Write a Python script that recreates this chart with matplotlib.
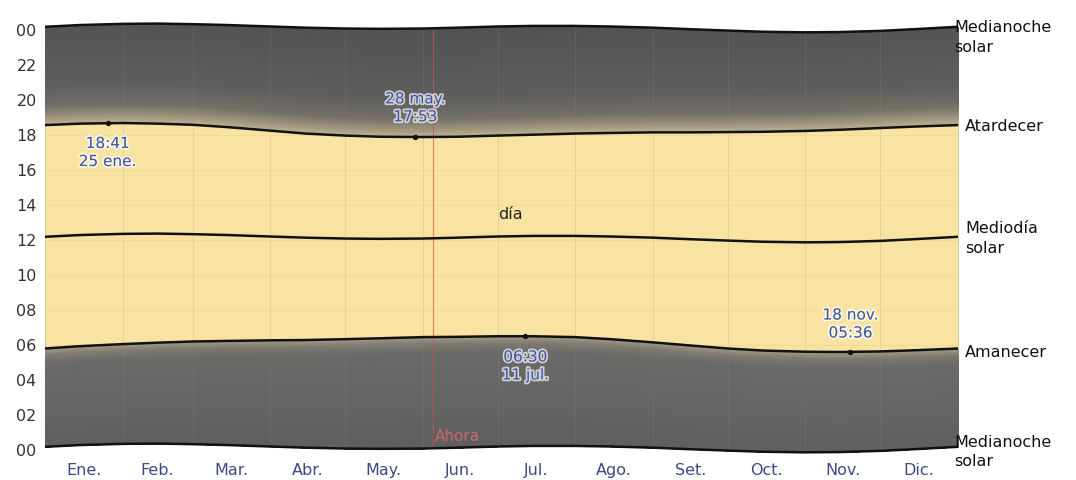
import numpy as np
import matplotlib
matplotlib.use("Agg")
import matplotlib.pyplot as plt
import matplotlib.patheffects as pe

# ---- data (day of year, hours) ----
days = [0, 14, 31, 45, 59, 73, 90, 104, 120, 134, 151, 165, 181, 195, 212, 226, 243, 257, 273, 287, 304, 318, 334, 348, 365]
sunrise_hm = ["05:48", "05:56", "06:03", "06:08", "06:12", "06:14", "06:16", "06:17", "06:20", "06:23",
              "06:27", "06:28", "06:30", "06:30", "06:27", "06:20", "06:09", "05:59", "05:48", "05:41",
              "05:37", "05:36", "05:38", "05:42", "05:48"]
sunset_hm = ["18:34", "18:39", "18:41", "18:39", "18:35", "18:27", "18:15", "18:05", "17:58", "17:54",
             "17:53", "17:54", "17:58", "18:01", "18:05", "18:07", "18:09", "18:09", "18:10", "18:11",
             "18:14", "18:18", "18:24", "18:29", "18:34"]
noon_hm = ["12:11", "12:17", "12:21", "12:22", "12:20", "12:17", "12:12", "12:08", "12:05", "12:04",
           "12:05", "12:08", "12:12", "12:14", "12:14", "12:12", "12:08", "12:03", "11:58", "11:54",
           "11:52", "11:53", "11:57", "12:03", "12:11"]

month_labels = ["Ene.", "Feb.", "Mar.", "Abr.", "May.", "Jun.", "Jul.", "Ago.", "Set.", "Oct.", "Nov.", "Dic."]
month_starts = [0, 31, 59, 90, 120, 151, 181, 212, 243, 273, 304, 334, 365]
hour_ticks = [0, 2, 4, 6, 8, 10, 12, 14, 16, 18, 20, 22, 24]
hour_labels = ["00", "02", "04", "06", "08", "10", "12", "14", "16", "18", "20", "22", "00"]

extreme_days = [25, 148, 192, 322]
extreme_hm = ["18:41", "17:53", "06:30", "05:36"]
extreme_text = ["18:41\n25 ene.", "28 may.\n17:53", "06:30\n11 jul.", "18 nov.\n05:36"]
extreme_text_hour = [17.0, 19.55, 4.8, 7.2]

now_day = 155
right_labels = ["Medianoche\nsolar", "Atardecer", "Mediodía\nsolar", "Amanecer", "Medianoche\nsolar"]


def hm(s):
    h, m = s.split(":")
    return int(h) + int(m) / 60.0


x = np.array(days, dtype=float)
rise = np.array([hm(s) for s in sunrise_hm])
sset = np.array([hm(s) for s in sunset_hm])
noon = np.array([hm(s) for s in noon_hm])
mid_top = noon + 12
mid_bot = noon - 12

fig = plt.figure(figsize=(10.76, 4.8), dpi=100)
ax = fig.add_axes([45 / 1076, (480 - 458.75) / 480, 913 / 1076, 437.5 / 480])
ax.set_xlim(0, 365)
ax.set_ylim(-0.5, 24.5)
for s in ax.spines.values():
    s.set_visible(False)


def hexrgb(h):
    h = h.lstrip("#")
    return np.array([int(h[i:i + 2], 16) / 255 for i in (0, 2, 4)])


def color_at(o, stops):
    offs = [a for a, _ in stops]
    cols = np.array([hexrgb(c) for _, c in stops])
    return tuple(np.interp(o, offs, cols[:, k]) for k in range(3))


# chart body between the solar midnights
body = ax.fill_between(x, mid_bot, mid_top, color="#5a5a5a", lw=0, zorder=0.5)

stops_up = [(0.0, "#c2b695"), (0.4, "#a1987f"), (1.1, "#747068"), (2.3, "#5e5e5e"), (6.0, "#535353")]
stops_dn = [(0.0, "#a39a84"), (0.35, "#807b72"), (0.9, "#6a6a68"), (6.0, "#5f5f5f")]
step = 0.04
n = int(6.2 / step)
for k in range(n):
    o0 = k * step
    lo = np.minimum(sset + o0, mid_top)
    ax.fill_between(x, lo, mid_top, color=color_at(o0 + step / 2, stops_up), lw=0, zorder=1,
                    antialiased=False)
    hi2 = np.maximum(rise - o0, mid_bot)
    ax.fill_between(x, mid_bot, hi2, color=color_at(o0 + step / 2, stops_dn), lw=0, zorder=1,
                    antialiased=False)

# day
day = ax.fill_between(x, rise, sset, color="#f9e3a2", lw=0, zorder=1.5)

# grid, clipped
body_path = body.get_paths()[0]
day_path = day.get_paths()[0]
for d in month_starts[1:-1]:
    ln = ax.axvline(d, color="#d8c07c", lw=0.7, alpha=0.5, zorder=2)
    ln.set_clip_path(day_path, ax.transData)
    ln2 = ax.axvline(d, color="#8a8a8a", lw=0.6, alpha=0.25, zorder=1.2)
    ln2.set_clip_path(body_path, ax.transData)
for h in hour_ticks[1:-1]:
    ln = ax.axhline(h, color="#e2cb88", lw=0.6, alpha=0.35, zorder=2)
    ln.set_clip_path(day_path, ax.transData)

# now line
ln = ax.axvline(now_day, color="#d05050", lw=0.8, alpha=0.7, zorder=3)
ln.set_clip_path(body_path, ax.transData)
ax.text(now_day + 1, 0.75, "Ahora", color="#e06868", fontsize=11, ha="left", va="center", zorder=6,
        alpha=0.85)

# curves
for y in (mid_top, sset, noon, rise, mid_bot):
    ax.plot(x, y, color="#111111", lw=1.8, zorder=4, solid_capstyle="butt")

# extremes
ax.scatter(extreme_days, [hm(s) for s in extreme_hm], s=8, color="#111111", zorder=5)
for d, t, yh in zip(extreme_days, extreme_text, extreme_text_hour):
    ax.text(d, yh, t, color="#3e55a0", fontsize=11, ha="center", va="center", linespacing=1.25, zorder=6,
            path_effects=[pe.withStroke(linewidth=2.5, foreground=(1, 1, 1, 0.7))])

ax.text(186, 13.45, "día", color="#222222", fontsize=11.5, ha="center", va="center", zorder=6)

# right labels
ry = [mid_top[-1] - 0.6, sset[-1] - 0.1, noon[-1] - 0.1, rise[-1] - 0.25, mid_bot[-1] - 0.3]
rx = [0.996, 1.008, 1.008, 1.008, 0.996]
for lab, yy, xx in zip(right_labels, ry, rx):
    ax.text(xx, yy, lab, transform=ax.get_yaxis_transform(), fontsize=11.5, color="#111111",
            ha="left", va="center", linespacing=1.4, clip_on=False, zorder=7)

# ticks
mid_month = [(a + b) / 2 for a, b in zip(month_starts[:-1], month_starts[1:])]
ax.set_xticks(mid_month)
ax.set_xticklabels(month_labels, color="#3b4a86", fontsize=11.5)
ax.set_yticks(hour_ticks)
ax.set_yticklabels(hour_labels, color="#333333", fontsize=11.5)
ax.tick_params(length=0, pad=6)
ax.tick_params(axis="x", pad=3)

fig.savefig("out.png", dpi=100, facecolor="white")
